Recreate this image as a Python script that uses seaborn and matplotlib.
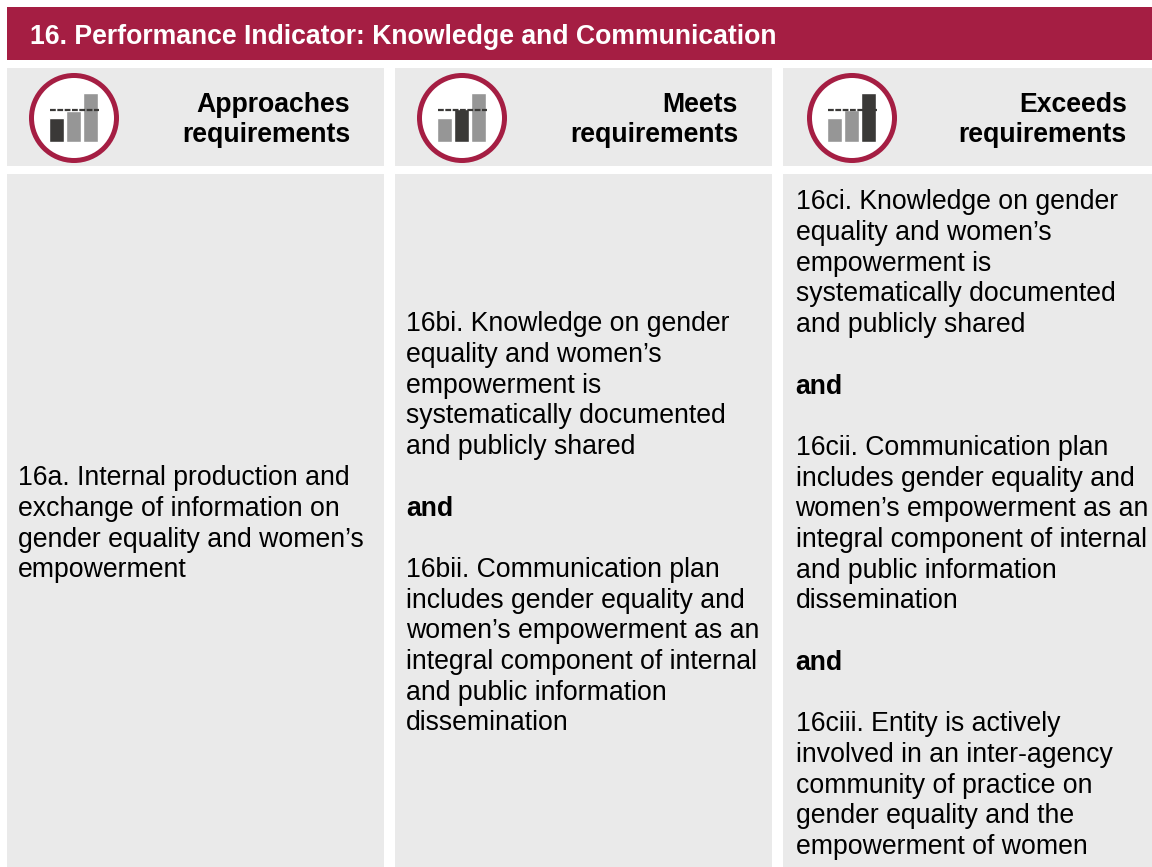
import pandas as pd
import seaborn as sns
import matplotlib.pyplot as plt
from matplotlib.patches import Rectangle, Circle

W, H = 1152, 867
RED = '#A51E43'
PANEL = '#EAEAEA'
DARK = '#3A3937'
GREY = '#969696'

title = '16. Performance Indicator: Knowledge and Communication'
level_names = [['Approaches', 'requirements'],
               ['Meets', 'requirements'],
               ['Exceeds', 'requirements']]

# little bar icons
icon_bars = ['low', 'mid', 'high']
icon_heights = [[24, 31, 49.5],
                [24, 33, 49.5],
                [24, 32, 49.5]]
icon_target = 32
icon_active = ['low', 'mid', 'high']

lines_a = ['16a. Internal production and',
           'exchange of information on',
           'gender equality and women\u2019s',
           'empowerment']
lines_b = ['16bi. Knowledge on gender',
           'equality and women\u2019s',
           'empowerment is',
           'systematically documented',
           'and publicly shared',
           '',
           'and',
           '',
           '16bii. Communication plan',
           'includes gender equality and',
           'women\u2019s empowerment as an',
           'integral component of internal',
           'and public information',
           'dissemination']
lines_c = ['16ci. Knowledge on gender',
           'equality and women\u2019s',
           'empowerment is',
           'systematically documented',
           'and publicly shared',
           '',
           'and',
           '',
           '16cii. Communication plan',
           'includes gender equality and',
           'women\u2019s empowerment as an',
           'integral component of internal',
           'and public information',
           'dissemination',
           '',
           'and',
           '',
           '16ciii. Entity is actively',
           'involved in an inter-agency',
           'community of practice on',
           'gender equality and the',
           'empowerment of women']

sns.set_theme(style='white')
plt.rcParams['font.family'] = ['Liberation Sans', 'DejaVu Sans']

fig = plt.figure(figsize=(W / 100, H / 100), dpi=100)
ax = fig.add_axes([0, 0, 1, 1])
ax.set_xlim(0, W)
ax.set_ylim(H, 0)
ax.axis('off')

# header band
ax.add_patch(Rectangle((7, 7), W - 7, 53, color=RED, lw=0))
ax.text(30, 36.5, title, color='white', fontsize=19.19, fontweight='bold', va='center', ha='left')

col_left = [7, 395, 783]
col_width = [377, 377, 369]
circle_x = [74, 462, 852]
bars_x = [50, 438, 828]
name_right = [350, 738, 1127]
text_x = [18.2, 406.2, 795.5]
text_y = [478.3, 324.3, 202.3]
text_lines = [lines_a, lines_b, lines_c]
LINE = 30.7


def draw_icon(x0, heights, active):
    df = pd.DataFrame({'bar': icon_bars, 'value': heights})
    iax = fig.add_axes([(x0 - 2) / W, 1 - 142 / H, 51 / W, 60 / H])
    iax.patch.set_alpha(0)
    colors = {b: (DARK if b == active else GREY) for b in icon_bars}
    sns.barplot(data=df, x='bar', y='value', hue='bar', palette=colors, width=0.84,
                legend=False, saturation=1, ax=iax)
    iax.axhline(icon_target, xmin=0.03, color=DARK, lw=1.6, ls=(0, (2.6, 0.7)), zorder=5)
    iax.set_xlim(-0.5, 2.5)
    iax.set_ylim(0, 60)
    iax.axis('off')


for i in range(3):
    ax.add_patch(Rectangle((col_left[i], 68), col_width[i], 98, color=PANEL, lw=0))
    ax.add_patch(Rectangle((col_left[i], 174), col_width[i], H - 174, color=PANEL, lw=0))
    ax.add_patch(Circle((circle_x[i], 118), 42.5, facecolor='white', edgecolor=RED, lw=3.6))
    draw_icon(bars_x[i], icon_heights[i], icon_active[i])

    ax.text(name_right[i], 105, level_names[i][0], fontsize=19.15, fontweight='bold',
            color='black', ha='right', va='center')
    ax.text(name_right[i], 135, level_names[i][1], fontsize=19.15, fontweight='bold',
            color='black', ha='right', va='center')

    for n, line in enumerate(text_lines[i]):
        ax.text(text_x[i], text_y[i] + n * LINE, line, fontsize=19.15, color='black', ha='left',
                va='center', fontweight='bold' if line == 'and' else 'normal')

fig.savefig('out.png', dpi=100)
plt.close()
